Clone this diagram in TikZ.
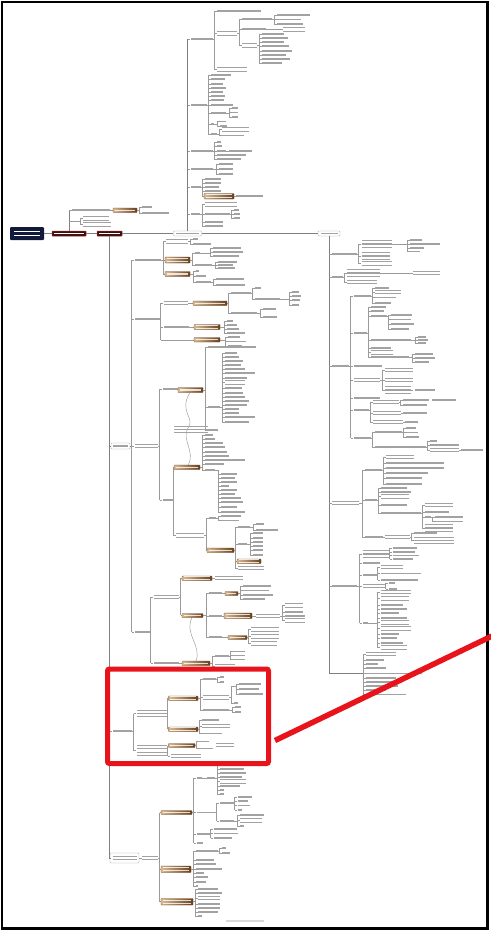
\documentclass[tikz,border=0pt]{standalone}
\usepackage{tikz}
\definecolor{lnc}{HTML}{9A9A9A}
\definecolor{trc}{HTML}{808080}
\definecolor{txc}{HTML}{A2A2A2}
\definecolor{tanc}{HTML}{D9BC93}
\definecolor{brnc}{HTML}{6A3F1C}
\definecolor{redf}{HTML}{3E0E0E}
\definecolor{redd}{HTML}{9A2A2A}
\definecolor{navyc}{HTML}{121A3C}
\definecolor{annot}{HTML}{E8141B}
\tikzset{
 ln/.style={draw=lnc,line width=0.45pt},
 trk/.style={draw=trc,line width=0.8pt},
 txt/.style={fill=txc},
 wtx/.style={fill=white},
 btx/.style={fill=white,opacity=0.8},
 bbox/.style={left color=tanc,right color=brnc,rounded corners=0.5pt},
 bbord/.style={draw=brnc,line width=0.3pt,rounded corners=0.5pt},
 wbox/.style={draw=gray!70,fill=white,line width=0.4pt,rounded corners=0.8pt,inner sep=0pt},
 rbox/.style={fill=redf,draw=redd,line width=0.5pt,rounded corners=0.5pt,inner sep=0pt},
}
\newcommand\xmb[5][txt]{\foreach \ii in {1,...,#5}{\fill[#1] ({#2},{#3+(\ii-1)*3.2-(#5-1)*1.6-0.55}) rectangle ++({#4},1.1);}}
\newcommand\xh[3]{\draw[ln] (#1,#3)--(#2,#3);}
\newcommand\xkids[2]{\foreach \yy/\ww/\nn in {#2}{\draw[ln] (#1,\yy)--({#1+2.5},\yy); \xmb{#1+3}{\yy}{\ww}{\nn}}}
\newcommand\xgrp[4]{\draw[ln] (#1,#2)--(#1,#3); \xkids{#1}{#4}}
\newcommand\xbb[5]{\shade[bbox] (#1,#2) rectangle (#3,#4); \draw[bbord] (#1,#2) rectangle (#3,#4); \xmb[btx]{#1+1.5}{(#2+#4)/2}{#3-#1-4}{#5}}
\begin{document}
\begin{tikzpicture}[x=1pt,y=-1pt]
\useasboundingbox (0,0) rectangle (490,931);
\fill[white] (0,0) rectangle (490,931);

% ---------- main nodes ----------
\node[fill=navyc,rounded corners=1pt,minimum width=34pt,minimum height=13pt,inner sep=0pt] (root) at (27,233.5) {};
\node[rbox,minimum width=34pt,minimum height=5pt] (b1) at (69,233.5) {};
\node[rbox,minimum width=25pt,minimum height=5pt] (b2) at (109.5,233.5) {};
\node[wbox,minimum width=28pt,minimum height=5pt] (misc) at (187.5,233.5) {};
\node[wbox,minimum width=22pt,minimum height=5pt] (phil) at (329,233.5) {};
\node[wbox,minimum width=19pt,minimum height=6pt] (topic) at (120.5,446) {};
\node[wbox,minimum width=29pt,minimum height=10pt] (relev) at (124.5,858) {};
\xmb[wtx]{14}{233.5}{26}{2}
\xmb[wtx]{54}{233.5}{30}{1}
\xmb[wtx]{99}{233.5}{21}{1}
\xmb{176}{233.5}{23}{1}
\xmb{320.5}{233.5}{17}{1}
\xmb{113}{446}{15}{1}
\xmb{112.5}{858}{24}{2}

\draw[trk] (root.east)--(b1.west);
\draw[trk] (b1.east)--(b2.west);
\draw[trk] (b2.east)--(misc.west);
\draw[trk] (misc.east)--(phil.west);
\draw[trk] (misc.north)--(misc.north |- 0,39);
\draw[trk] (b2.south)--(b2.south |- 0,858)--(relev.west);
\draw[trk] (b2.south |- topic.west)--(topic.west);
\draw[trk] (phil.south)--(phil.south |- 0,673)--(363,673);
\draw[trk] (b1.north)--(b1.north |- 0,210);

% ---------- top-left (b1) ----------
\xkids{69}{210/38/1}
\xh{110}{113}{210}\xbb{113}{208}{137}{212.5}{1}\xh{137}{139}{210}
\xgrp{139}{207}{213}{207/10/1,213/27/1}
\xh{69}{80}{221.5}\xgrp{80}{218.5}{224.5}{218.5/26/2,224.5/28/2}

% ---------- top tree ----------
\xkids{187.5}{39/22/1,105/16/1,151/22/1,169/22/1,187/10/1,214/9/1}
\xh{212.5}{214}{39}\xgrp{214}{11}{69.5}{11/44/1,33.5/20/2,69.5/30/2}
\xh{237}{239}{33.5}\xgrp{239}{19}{45.5}{19/30/1,29/24/1,45.5/15/2}
\xh{272}{274}{19}\xgrp{274}{15}{24}{15/33/1,19.5/24/1,24/26/1}
\xh{266}{283}{29}\xmb{283}{29.5}{22}{2}
\xh{257}{259}{45.5}\xgrp{259}{34}{63}{34/22/1,38/26/1,42/22/1,46/27/1,51/30/1,55/24/1,59/28/1,63/20/1}
\xh{206.5}{208}{105}\xgrp{208}{75}{134}{75/20/1,79/14/1,84/12/1,88/15/1,92/12/1,96/14/1,100/13/1,105/22/1,113/15/1,124/3/1,134/6/1}
\xh{226}{229}{113}\xgrp{229}{108}{117}{108/6/1,112.5/6/1,117/6/1}
\xh{214}{217}{124}\xgrp{217}{121.5}{126}{121.5/6/1,126/7/1}
\xh{217}{219}{134}\xgrp{219}{129.5}{135.5}{129.5/27/2,135.5/22/1}
\xh{212.5}{214}{151}\xgrp{214}{142}{159}{142/4/1,146/5/1,151/9/1,155/29/1,159/24/1}
\xh{226}{229}{151}\xmb{229}{151}{23}{1}
\xh{212.5}{216}{169}\xgrp{216}{164}{174}{164/14/1,169/14/1,174/14/1}
\xh{200.5}{202}{187}\xgrp{202}{179}{196}{179/16/1,183/16/1,187/14/1,191/16/1}
\xh{202}{204}{196}\xbb{204}{193.5}{234}{199}{2}\xh{234}{236}{196}\xmb{236}{196}{27}{1}
\xh{199.5}{202}{214}\xgrp{202}{204.5}{226}{204.5/32/2,214/25/1,222/18/1,226/18/1}
\xh{230}{231}{214}\xgrp{231}{210}{218}{210/5/1,214/6/1,218/6/1}

% ---------- left: topic ----------
\draw[trk] (topic.east)--(131.5,446);
\draw[ln] (131.5,260)--(131.5,632);
\xkids{131.5}{260/26/1,319/25/1,446/23/2,632/16/1}
% S1
\xh{160.5}{163}{260}\draw[ln] (163,241.5)--(163,274);
\xkids{163}{241.5/22/2}
\xh{188}{190}{241.5}\xgrp{190}{239}{244}{239/5/1,244/18/1}
\xh{163}{165}{260}\xbb{165}{257}{190}{263}{2}\xh{190}{192}{260}\draw[ln] (192,253)--(192,265);
\xkids{192}{253/5/1,265/17/1}
\xh{200}{210}{253}\xgrp{210}{248}{256}{248/28/1,252/30/1,256/26/1}
\xh{212}{215}{265}\xgrp{215}{262}{268}{262/19/1,265/15/1,268/17/1}
\xh{163}{165}{274}\xbb{165}{271.5}{190}{276.5}{1}\xh{190}{193}{274}
\xgrp{193}{271}{282}{271/3/1,276/10/1,282/15/1}
\xh{211}{213}{282}\xgrp{213}{279}{285}{279/28/1,285/29/1}
% S2
\xh{159.5}{160.5}{319}\draw[ln] (160.5,303)--(160.5,340);
\xkids{160.5}{303/24/2,327/25/1}
\xh{187.5}{193}{303}\xbb{193}{301}{227}{305.5}{1}\xh{227}{228}{303}\draw[ln] (228,293)--(228,313);
\xkids{228}{293/20/1,313/26/1}
\xh{251}{252}{293}\xgrp{252}{288}{299}{288/6/1,299/25/1}
\xh{280}{289}{299}\xgrp{289}{292}{305}{292/7/1,296/9/1,300/8/1,305/7/1}
\xh{257}{260}{313}\xgrp{260}{309}{317}{309/13/1,317/14/1}
\xh{188.5}{194}{327}\xbb{194}{324.5}{220}{329.5}{2}\xh{220}{224}{327}
\xgrp{224}{321}{333}{321/6/1,325/10/1,329/12/1,333/18/1}
\xh{160.5}{194}{340}\xbb{194}{337.5}{220}{342}{1}\xh{220}{225}{340}
\xgrp{225}{337}{346}{337/12/1,341.5/18/1,346/14/1}
% S3
\xh{157.5}{159.5}{446}\draw[ln] (159.5,389)--(159.5,500);
\xkids{159.5}{389/15/1,500/10/1}
\xh{177.5}{178}{389}\xbb{178}{387.5}{203}{392.5}{1}\xh{203}{205}{390}\draw[ln] (205,347)--(205,430);
\xkids{205}{347/48/1,407/12/1,430/10/1}
\xh{220}{222}{407}\xgrp{222}{353}{422}{353/12/1,357/14/1,361/18/1,365/16/1,369/20/1,373/30/1,378/22/1,382.5/20/2,388/17/1,393/18/1,397/20/1,401/24/1,405/22/1,409/14/1,413/14/1,417/30/1,422/24/1}
\xh{172.5}{173}{500}\draw[ln] (173,467)--(173,535.5);
\xh{173}{174}{467}\xbb{174}{465}{200}{469.5}{1}\xh{200}{202}{467}
\xgrp{202}{435}{470}{435/8/1,439/10/1,443/18/1,447/20/1,452/22/1,456/24/1,460/40/1,464/19/1,470/10/1}
\xh{215}{218}{470}\draw[ln] (218,470)--(218,512);
\xkids{218}{474/16/1,478/14/1,482/16/1,486/8/1,490/16/1,494/14/1,498/20/1,502/22/1,507/16/1,512/24/1}
\xkids{173}{535.5/28/2}
\xh{204}{206}{535.5}\draw[ln] (206,518)--(206,550);
\xkids{206}{518/7/1}
\xh{216}{218}{518}\xgrp{218}{516}{520.5}{516/20/1,520.5/18/1}
\xh{206}{207}{550}\xbb{207}{548}{234}{552.5}{1}\xh{234}{235}{550}\draw[ln] (235,527)--(235,568);
\xkids{235}{527/12/1,544/9/1,568/26/2}
\xh{250}{253}{527}\xgrp{253}{524}{530}{524/8/1,530/22/1}
\xh{247}{250}{544}\xgrp{250}{533}{555}{533/10/1,538/10/1,542/10/1,546/10/1,550/10/1,555/10/1}
\xh{235}{237}{561}\xbb{237}{559}{261}{563.5}{2}
% S4
\draw[ln] (150.5,597)--(150.5,663);
\xkids{150.5}{597/25/2,663/25/1}
\xh{178.5}{180.5}{597}\draw[ln] (180.5,578)--(180.5,615);
\xh{180.5}{182}{578}\xbb{182}{576}{212}{580.5}{2}\xh{212}{215}{578}\xmb{215}{578}{28}{2}
\xh{180.5}{182}{615}\xbb{182}{613.5}{203}{617.5}{1}\xh{203}{206}{615}\draw[ln] (206,593)--(206,637);
\xkids{206}{593/13/1,616/13/1,637/13/1}
\xh{222}{225}{593}\xbb{225}{591.5}{238}{595.5}{1}\xh{238}{240}{593}
\xgrp{240}{586}{599}{586/28/1,590.5/26/1,595/30/1,599/22/1}
\xh{222}{224}{616}\xbb{224}{613}{252}{618.5}{2}\xh{252}{256}{616}\xmb{256}{616}{24}{2}
\xh{280}{282}{616}\xgrp{282}{605.5}{620.5}{605.5/18/2,612/18/1,616/20/1,620.5/20/2}
\xh{222}{228}{637}\xbb{228}{635.5}{247}{639.5}{1}\xh{247}{248}{637}
\xgrp{248}{629.5}{643.5}{629.5/28/2,636.5/28/2,643.5/26/2}
\xh{178.5}{182}{663}\xbb{182}{661}{210}{665.5}{1}\xh{210}{212}{663}\draw[ln] (212,656)--(212,666.5);
\xkids{212}{656/14/1,666.5/20/2}
\xh{229}{230}{656}\xgrp{230}{651.5}{659.5}{651.5/12/1,655.5/12/1,659.5/12/1}
% relationship curves
\draw[ln] (190,392.5) .. controls (178,412) and (196,418) .. (188,428) .. controls (181,440) and (196,452) .. (188,465);
\xmb{174}{429.5}{34}{3}
\draw[ln] (192,617.5) .. controls (184,635) and (202,645) .. (196,661);

% ---------- left: governance ----------
\xkids{109.5}{731/19/1}
\xh{131.5}{133.5}{731}\draw[ln] (133.5,713.5)--(133.5,750.5);
\xkids{133.5}{713.5/30/3,750.5/30/4}
\xh{166.5}{167.5}{713.5}\draw[ln] (167.5,698)--(167.5,729);
\xh{167.5}{168.5}{698}\xbb{168.5}{696}{198}{700.5}{2}\xh{198}{200}{698}\draw[ln] (200,679)--(200,710);
\xkids{200}{679/13/1,697.5/26/2,710/26/1}
\xh{216}{217}{679}\xgrp{217}{677}{682}{677/4/1,682/4/1}
\xh{229}{231}{697.5}\draw[ln] (231,686)--(231,703);\xkids{231}{703/4/1}
\xh{231}{236}{686}\xgrp{236}{684}{694}{684/22/1,689/20/1,694/24/1}
\xh{229}{232}{710}\xgrp{232}{707}{712}{707/6/1,712/6/1}
\xh{167.5}{168.5}{729}\xbb{168.5}{727}{198}{731.5}{2}\xh{198}{199}{729}
\xgrp{199}{720}{734}{720/17/1,726/28/2,733.5/20/1}
\xh{166.5}{167.5}{750.5}\draw[ln] (167.5,745.5)--(167.5,756);
\xh{167.5}{168.5}{745.5}\xbb{168.5}{743.5}{195}{747.5}{1}\xh{195}{196}{745.5}
\xgrp{196}{741.5}{748.5}{741.5/10/1,748.5/14/1}\xmb{216}{745}{18}{2}
\xkids{167.5}{756/30/2}

% ---------- left: relevant ----------
\draw[ln] (relev.east)--(142,858);\xmb{142}{858}{16}{2}\xh{158}{159.5}{858}
\draw[ln] (159.5,812.5)--(159.5,901.5);
\xh{159.5}{161}{812.5}\xbb{161}{810.5}{192}{814.5}{1}\xh{192}{193.5}{812.5}\draw[ln] (193.5,778)--(193.5,843);
\xkids{193.5}{778/5/1,812.5/19/1,834/13/1,843/6/1}
\xh{201.5}{207}{778}\xmb{207}{778}{8}{1}\xh{215}{217}{778}
\xgrp{217}{765}{794}{765/25/1,769/24/1,773/26/1,777/22/1,781.5/26/2,786/20/1,790/4/1,794/4/1}
\xh{215.5}{216.5}{812.5}\draw[ln] (216.5,803)--(216.5,821);\xkids{216.5}{803/14/1,821/14/1}
\xh{233.5}{234.5}{803}\xgrp{234.5}{797}{810}{797/14/1,801/10/1,805.5/12/1,810/4/1}
\xh{233.5}{237}{821}\xgrp{237}{815}{826}{815/24/1,820.5/22/2,826/4/1}
\xh{209.5}{210.5}{834}\xgrp{210.5}{829}{838}{829/23/1,833.5/24/1,838/18/1}
\xh{159.5}{161}{869}\xbb{161}{866}{191}{872.5}{2}\xh{191}{193}{869}\draw[ln] (193,851)--(193,886);
\xkids{193}{851/22/1,860/18/1,864/20/1,869/26/1,873/8/1,877/12/1,882/10/1,886/2/1}
\xh{218}{219}{851}\xgrp{219}{848}{853}{848/4/1,853/8/1}
\xh{159.5}{161}{901.5}\xbb{161}{898.5}{193}{905}{2}\xh{193}{195}{901.5}
\xgrp{195}{889}{916}{889/20/1,893/24/1,898/22/2,904/22/1,908/22/1,912/20/1,916/4/1}

% ---------- right tree ----------
\xkids{329}{254/25/1,277/11/1,366/17/1,503/27/2,586/25/1}
% R1
\xh{357}{358.5}{254}\draw[ln] (358.5,244)--(358.5,263.5);
\xkids{358.5}{244/30/3,256/28/3,263.5/30/2}
\xh{391.5}{407}{244}\xgrp{407}{240}{251.5}{240/12/1,244/30/1,248/14/1,251.5/10/1}
% R2
\xh{343}{344}{277}\draw[ln] (344,273)--(344,282);
\xkids{344}{273/33/3,282/30/2}
\xh{380}{413}{273}\xmb{413}{273}{27}{2}
% R3
\xh{349}{350.5}{366}\draw[ln] (350.5,296)--(350.5,438);
\xkids{350.5}{296/17/1,333/13/1,366/28/1,380/26/2,398/26/1,410/15/1,438/17/1}
\xh{370.5}{372}{296}\xgrp{372}{288}{303}{288/14/1,292/26/2,297.5/21/1,303/16/1}
\xh{366.5}{368}{333}\draw[ln] (368,307)--(368,357);
\xkids{368}{307/15/1,311/13/1,316/16/1,340/40/1,348/20/1,352.5/22/2,357/38/1}
\xh{387}{388}{316}\xgrp{388}{315}{329}{315/21/1,319.5/20/1,324/23/1,329/18/1}
\xh{411}{415}{340}\xgrp{415}{337}{343}{337/8/1,340/10/1,343/8/1}
\xh{409}{412}{357}\xgrp{412}{354}{362}{354/18/1,358/20/1,362/14/1}
\xh{379.5}{382}{380}\xgrp{382}{370}{390}{370/28/2,380/28/2,390/26/3}
\xh{411}{413}{390}\xmb{415}{390}{20}{1}
\xh{368.5}{370}{410}\draw[ln] (370,402)--(370,422);
\xkids{370}{402/26/2,413/28/2,422/30/2}
\xh{399}{400}{402}\xgrp{400}{400}{405}{400/26/1,405/24/1}\xmb{432}{400}{24}{1}
\xh{401}{403}{413}\xmb{403}{413}{24}{1}
\xh{403}{405}{422}\xmb{405}{422}{13}{1}
\xh{370.5}{372}{438}\draw[ln] (372,432)--(372,447);
\xkids{372}{432/27/1,447/51/1}
\xh{402}{403}{432}\xgrp{403}{428}{437}{428/10/1,432.5/12/1,437/13/1}
\xh{426}{427}{447}\xgrp{427}{441}{450}{441/7/1,445/29/1,450/29/2}
\xh{459}{461}{450}\xmb{461}{450}{22}{1}
% R4
\xh{359}{362}{503}\draw[ln] (362,470)--(362,537);
\xkids{362}{470/17/1,500/12/1,537/18/1}
\xh{382}{383}{470}\xgrp{383}{457}{484}{457/28/2,463/58/1,468/58/1,473/42/1,478/36/1,484/36/1}
\xh{377}{378}{500}\xgrp{378}{488}{513}{488/26/1,492/30/1,496.5/28/2,505/26/1,513/40/1}
\xh{421}{422}{513}\xgrp{422}{505}{528}{505/28/2,512/24/1,517/6/1,528/28/3}
\xh{431}{432}{517}\xgrp{432}{517}{521.5}{517/28/1,521.5/28/1}
\xh{383}{385}{537}\xmb{385}{537}{25}{2}\xh{410}{411}{537}
\xgrp{411}{533}{540.5}{533/23/1,540.5/40/3}
% R5
\xh{357}{359.5}{586}\draw[ln] (359.5,554)--(359.5,623);
\xkids{359.5}{554/26/3,563/17/1,575/14/1,586/22/2,623/5/1}
\xh{388.5}{389.5}{554}\xgrp{389.5}{548}{559}{548/24/1,552/22/1,555.5/26/1,559/20/1}
\xh{376.5}{377.5}{575}\xgrp{377.5}{567}{580}{567/22/2,573.5/40/1,580/37/1}
\xh{384.5}{385.5}{586}\xgrp{385.5}{583}{589}{583/6/1,589/8/1}
\xh{367.5}{377.5}{623}\xgrp{377.5}{592}{647.5}{592/30/2,598.5/28/2,605/22/1,609/26/1,613/18/1,618/26/1,622.5/28/2,628.5/30/2,634/18/1,638/16/1,643/22/1,647.5/26/2}
% R6
\xgrp{363}{654}{694.5}{654/30/2,660/18/1,664/12/1,668/20/1,673.5/56/1,678/30/1,682/34/1,686/32/1,690/20/1,694.5/40/1}

% ---------- footer, frame, annotation ----------
\fill[gray!30] (226,920.4) rectangle (264,921.6);
\draw[line width=2.6pt] (2,2) rectangle (487.5,928.5);
\draw[annot,line width=5pt,rounded corners=2pt] (107.5,669) rectangle (268.5,763.5);
\draw[annot,line width=5.5pt] (275,740.5)--(492,636);
\end{tikzpicture}
\end{document}
